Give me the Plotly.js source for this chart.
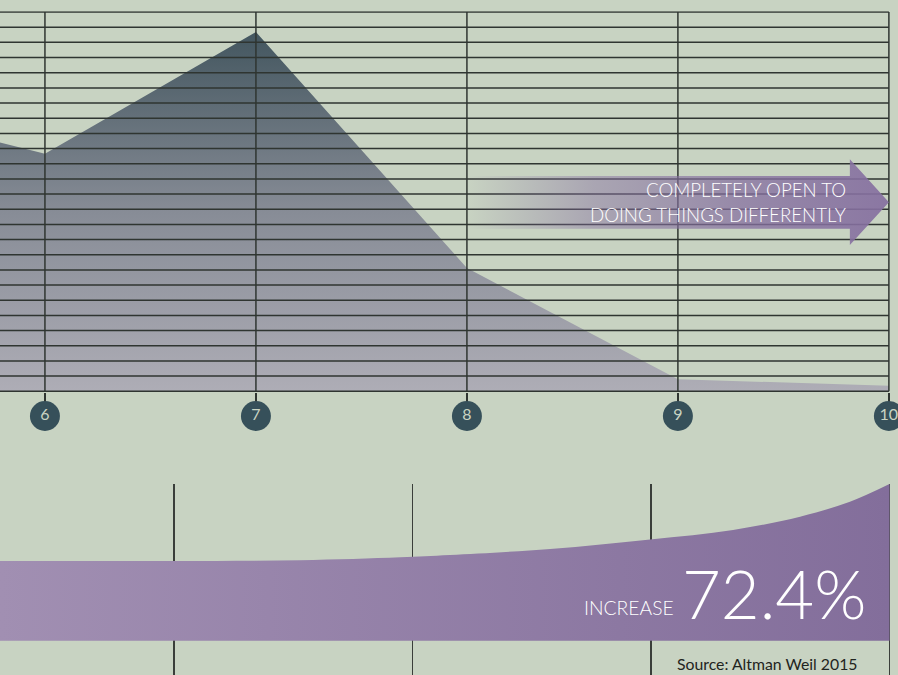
<!DOCTYPE html>
<html>
<head>
<meta charset="utf-8">
<script src="https://cdn.plot.ly/plotly-3.0.1.min.js"></script>
<style>html,body{margin:0;padding:0;background:#c8d3c2;}#chart{width:898px;height:675px;}</style>
</head>
<body>
<div id="chart"></div>
<script>
// ---- data ----
const scaleX = [5, 6, 7, 8, 9, 10];                 // openness score
const shareValues = [19.1, 15.66, 23.68, 8.13, 0.79, 0.37];
const tickLabels = ['6', '7', '8', '9', '10'];
const tickPositions = [6, 7, 8, 9, 10];
const gridLevels = Array.from({length: 26}, (_, i) => i); // 0..25

// bottom "increase" curve
const curveX = [0.2704, 1.0, 1.528, 1.948, 2.157, 2.577, 2.996, 3.344, 3.625, 3.834, 4.0];
const curveY = [100, 100, 100.9, 104.6, 107.5, 115.1, 127.0, 138.9, 155.6, 174.4, 196.6];
const bottomCols = [1, 2, 3, 4];

const arrowText1 = 'COMPLETELY OPEN TO';
const arrowText2 = 'DOING THINGS DIFFERENTLY';
const increaseLabel = 'INCREASE';
const increaseValue = '72.4%';
const sourceText = 'Source: Altman Weil 2015';

// ---- layout constants ----
const X_RANGE = [5.787, 10.01];
const Y_RANGE = [-0.05, 25.05];
const ARROW = {x0: 8.0, xh: 9.815, xt: 10.0, bodyTop: 14.19, bodyBot: 10.72, headTop: 15.29, headBot: 9.64, mid: 12.46};
const GRID_COLOR = '#2f3531';
const FONT = 'Lato, "Open Sans", sans-serif';

// grid as a trace so it sits above the area fill
const gx = [], gy = [];
gridLevels.forEach(v => { gx.push(X_RANGE[0], 10, null); gy.push(v, v, null); });
tickPositions.forEach(v => { gx.push(v, v, null); gy.push(0, 25, null); });

const traces = [
  { // area
    x: scaleX, y: shareValues, type: 'scatter', mode: 'none', fill: 'tozeroy',
    fillgradient: {type: 'vertical', start: 0, stop: 23.68,
      colorscale: [[0, '#aeadb6'], [0.5, '#878c96'], [1, '#43565f']]},
    hoverinfo: 'skip', xaxis: 'x', yaxis: 'y'
  },
  { // grid
    x: gx, y: gy, type: 'scatter', mode: 'lines',
    line: {color: GRID_COLOR, width: 1.5}, hoverinfo: 'skip', xaxis: 'x', yaxis: 'y'
  },
  { // arrow
    x: [ARROW.x0, ARROW.xh, ARROW.xh, ARROW.xt, ARROW.xh, ARROW.xh, ARROW.x0, ARROW.x0],
    y: [ARROW.bodyTop, ARROW.bodyTop, ARROW.headTop, ARROW.mid, ARROW.headBot, ARROW.bodyBot, ARROW.bodyBot, ARROW.bodyTop],
    type: 'scatter', mode: 'none', fill: 'toself',
    fillgradient: {type: 'horizontal',
      colorscale: [[0, 'rgba(134,112,160,0)'], [0.3, 'rgba(134,112,160,0.46)'], [0.65, 'rgba(134,112,160,0.75)'], [1, 'rgba(134,112,160,0.93)']]},
    hoverinfo: 'skip', xaxis: 'x', yaxis: 'y'
  },
  { // circle tick labels (own thin axis row below the plot)
    x: tickPositions, y: tickPositions.map(() => 0.5), text: tickLabels,
    type: 'scatter', mode: 'markers+text', cliponaxis: false,
    marker: {size: 30, color: '#36505a'},
    textposition: 'middle center',
    textfont: {family: FONT, size: 16, color: '#c9d4c3'},
    hoverinfo: 'skip', xaxis: 'x', yaxis: 'y3'
  },
  { // increase band
    x: curveX, y: curveY, type: 'scatter', mode: 'none', fill: 'tozeroy',
    line: {shape: 'spline'},
    fillgradient: {type: 'horizontal', colorscale: [[0, '#a18fb2'], [1, '#836e9b']]},
    hoverinfo: 'skip', xaxis: 'x2', yaxis: 'y2'
  }
];

const layout = {
  width: 898, height: 675,
  margin: {l: 0, r: 7, t: 0, b: 0, pad: 0},
  paper_bgcolor: '#c8d3c2', plot_bgcolor: 'rgba(0,0,0,0)',
  showlegend: false,
  xaxis: {domain: [0, 1], range: X_RANGE, showgrid: false, zeroline: false, showline: false,
    tickvals: tickPositions, showticklabels: false, ticks: 'outside', ticklen: 11, tickwidth: 1.5, tickcolor: GRID_COLOR,
    anchor: 'y', fixedrange: true},
  yaxis: {domain: [0.4192, 0.9833], range: Y_RANGE, showgrid: false, zeroline: false, showline: false,
    showticklabels: false, ticks: '', anchor: 'x', fixedrange: true},
  yaxis3: {domain: [0.3615, 0.4059], range: [0, 1], showgrid: false, zeroline: false, showline: false,
    showticklabels: false, ticks: '', anchor: 'free', position: 0, fixedrange: true},
  xaxis2: {domain: [0, 1], range: [0.2704, 4.0063], showgrid: true, gridcolor: '#3a3e3a', gridwidth: 1.4,
    tickvals: bottomCols, showticklabels: false, ticks: '', zeroline: false, showline: false, anchor: 'y2', fixedrange: true},
  yaxis2: {domain: [0, 0.283], range: [-43, 196.6], showgrid: false, zeroline: false, showline: false,
    showticklabels: false, ticks: '', anchor: 'x2', fixedrange: true},
  annotations: [
    {xref: 'x', yref: 'y', x: 9.806, y: 13.3, text: arrowText1, showarrow: false, xanchor: 'right', yanchor: 'middle',
      font: {family: FONT, size: 18.7, color: '#ffffff', weight: 300}},
    {xref: 'x', yref: 'y', x: 9.806, y: 11.65, text: arrowText2, showarrow: false, xanchor: 'right', yanchor: 'middle',
      font: {family: FONT, size: 18.7, color: '#ffffff', weight: 300}},
    {xref: 'x2', yref: 'y2', x: 3.105, y: 42, text: increaseLabel, showarrow: false, xanchor: 'right', yanchor: 'middle',
      font: {family: FONT, size: 19.3, color: '#ffffff', weight: 300}},
    {xref: 'x2', yref: 'y2', x: 3.91, y: 60, text: increaseValue, showarrow: false, xanchor: 'right', yanchor: 'middle',
      font: {family: FONT, size: 67, color: '#ffffff', weight: 300}},
    {xref: 'x2', yref: 'y2', x: 3.486, y: -29, text: sourceText, showarrow: false, xanchor: 'center', yanchor: 'middle',
      font: {family: FONT, size: 15.8, color: '#1f2420'}}
  ]
};

Plotly.newPlot('chart', traces, layout, {staticPlot: true, displayModeBar: false});
</script>
</body>
</html>
